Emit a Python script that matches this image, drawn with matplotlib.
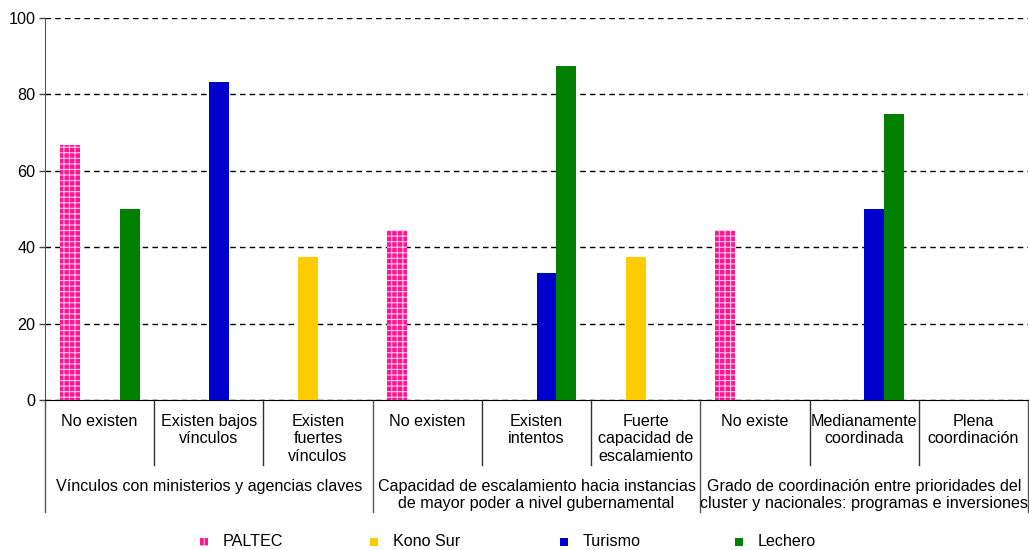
import matplotlib
matplotlib.use("Agg")
import matplotlib.pyplot as plt
from matplotlib.patches import Rectangle
from matplotlib.transforms import blended_transform_factory
import numpy as np

plt.rcParams['font.family'] = ['Liberation Sans', 'DejaVu Sans']
plt.rcParams['hatch.linewidth'] = 0.8

# Sub-categories (first level of the x axis)
categories = [
    "No existen", "Existen bajos\nvínculos", "Existen\nfuertes\nvínculos",
    "No existen", "Existen\nintentos", "Fuerte\ncapacidad de\nescalamiento",
    "No existe", "Medianamente\ncoordinada", "Plena\ncoordinación",
]
# Groups (second level of the x axis): label, first index, last index
groups = [
    ("Vínculos con ministerios y agencias claves", 0, 2),
    ("Capacidad de escalamiento hacia instancias\nde mayor poder a nivel gubernamental", 3, 5),
    ("Grado de coordinación entre prioridades del\ncluster y nacionales: programas e inversiones", 6, 8),
]

series_names = ["PALTEC", "Kono Sur", "Turismo", "Lechero"]
paltec   = [66.7, 0, 0, 44.4, 0, 0, 44.4, 0, 0]
kono_sur = [0, 0, 37.5, 0, 0, 37.5, 0, 0, 0]
turismo  = [0, 83.3, 0, 0, 33.3, 0, 0, 50.0, 0]
lechero  = [50.0, 0, 0, 0, 87.5, 0, 0, 75.0, 0]
series_values = [paltec, kono_sur, turismo, lechero]

colors = ["#FF1493", "#FFCC00", "#0000CC", "#008000"]
hatches = ["+++", None, None, None]
hatch_col = "#FFC8E4"
FS = 11.6

fig = plt.figure(figsize=(10.29, 5.5), dpi=100)
W, H = 1029, 550
ax_left, ax_right, ax_top, ax_bottom = 45, 1028, 18, 400
ax = fig.add_axes([ax_left / W, 1 - ax_bottom / H,
                   (ax_right - ax_left) / W, (ax_bottom - ax_top) / H])

n = len(categories)
x = np.arange(n)
bw = 0.183
for k, (vals, col, hat) in enumerate(zip(series_values, colors, hatches)):
    for i, v in enumerate(vals):
        if v <= 0:
            continue
        if hat:
            ax.bar(x[i] - 2 * bw + k * bw, v, width=bw, align='edge',
                   facecolor=col, edgecolor=hatch_col, linewidth=0,
                   hatch=hat, zorder=3)
        else:
            ax.bar(x[i] - 2 * bw + k * bw, v, width=bw, align='edge',
                   color=col, linewidth=0, zorder=3)

ax.set_xlim(-0.5, n - 0.5)
ax.set_ylim(0, 100)
ax.set_yticks(np.arange(0, 101, 20))
ax.tick_params(axis='y', labelsize=FS, length=4, width=1, color="#444444", pad=3)
ax.set_xticks([])
ax.yaxis.grid(True, color='black', linestyle=(0, (4, 3)), linewidth=1)
ax.set_axisbelow(True)
for s in ("top", "right"):
    ax.spines[s].set_visible(False)
ax.spines["left"].set_color("#555555")
ax.spines["bottom"].set_color("black")

trans = blended_transform_factory(ax.transData, ax.transAxes)
span = ax_bottom - ax_top


def yfrac(ypix):
    return (ax_bottom - ypix) / span


# Separator lines under the axis
group_edges = {g[1] for g in groups} | {groups[-1][2] + 1}
for b in range(n + 1):
    bottom = 512 if b in group_edges else 465
    col = "#555555" if b in group_edges else "#333333"
    ax.plot([b - 0.5, b - 0.5], [0, yfrac(bottom)], transform=trans,
            color=col, linewidth=1, clip_on=False)

for i, lab in enumerate(categories):
    ax.text(x[i], yfrac(414), lab, transform=trans, ha='center', va='top',
            fontsize=FS, linespacing=1.2)

for lab, a, b in groups:
    ax.text((a + b) / 2, yfrac(479), lab, transform=trans, ha='center',
            va='top', fontsize=FS, linespacing=1.13)

# Legend
legend_x = [200, 370, 560, 735]
legend_y = 541
for name, col, hat, lx in zip(series_names, colors, hatches, legend_x):
    fig.patches.append(Rectangle((lx / W, 1 - (legend_y + 5) / H), 8 / W, 8 / H,
                                 transform=fig.transFigure, facecolor=col,
                                 edgecolor=hatch_col if hat else col,
                                 linewidth=0, hatch="++" if hat else None))
    fig.text((lx + 23) / W, 1 - legend_y / H, name, fontsize=FS,
             ha='left', va='center')

fig.savefig("out.png", dpi=100)
